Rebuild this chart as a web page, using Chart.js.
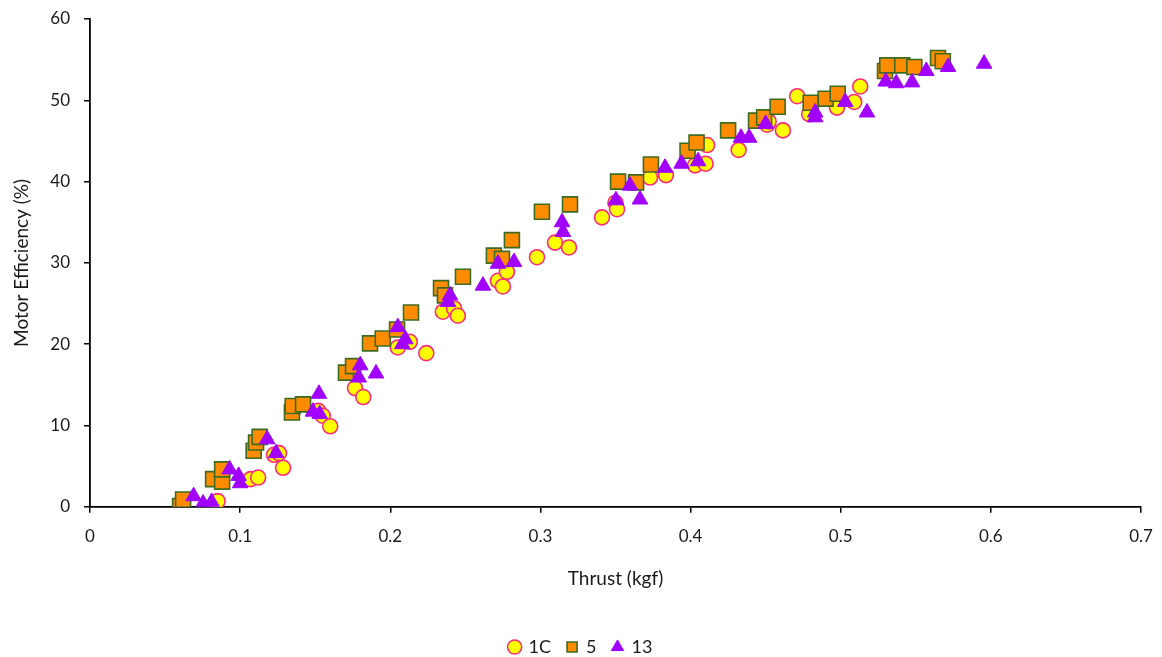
<!DOCTYPE html>
<html>
<head>
<meta charset="utf-8">
<script src="https://cdn.jsdelivr.net/npm/chart.js@4"></script>
<style>
  html, body { margin: 0; padding: 0; background: #fff; }
  #wrap { width: 1162px; height: 657px; }
</style>
</head>
<body>
<div id="wrap"><canvas id="chart"></canvas></div>
<script>
// Motor efficiency vs thrust, three test series
const xTicks = [0, 0.1, 0.2, 0.3, 0.4, 0.5, 0.6, 0.7];
const yTicks = [0, 10, 20, 30, 40, 50, 60];

const series1C = [
  [0.084, 0.2], [0.085, 0.7], [0.107, 3.4], [0.112, 3.6], [0.1286, 4.8],
  [0.1226, 6.4], [0.1259, 6.6], [0.152, 11.8], [0.155, 11.2], [0.160, 9.9],
  [0.1765, 14.6], [0.182, 13.5], [0.205, 19.6], [0.213, 20.3], [0.224, 18.9],
  [0.235, 24.0], [0.2425, 24.4], [0.245, 23.5], [0.2717, 27.8], [0.275, 27.1],
  [0.2777, 28.9], [0.2977, 30.7], [0.3097, 32.5], [0.319, 31.9], [0.341, 35.6],
  [0.350, 37.4], [0.351, 36.6], [0.373, 40.5], [0.3836, 40.8], [0.403, 42.0],
  [0.410, 42.2], [0.411, 44.5], [0.432, 43.9], [0.451, 47.0], [0.452, 47.4],
  [0.4615, 46.3], [0.471, 50.5], [0.479, 48.3], [0.4975, 49.1], [0.509, 49.8],
  [0.513, 51.7]
];

const series5 = [
  [0.060, 0.1], [0.062, 0.9], [0.082, 3.4], [0.088, 3.1], [0.088, 4.6],
  [0.109, 6.9], [0.1106, 7.9], [0.113, 8.6], [0.1345, 11.6], [0.135, 12.4],
  [0.1419, 12.6], [0.1705, 16.5], [0.1752, 17.3], [0.1865, 20.1], [0.195, 20.7],
  [0.2045, 21.8], [0.2138, 23.9], [0.2338, 26.9], [0.2364, 26.0], [0.2484, 28.3],
  [0.269, 30.9], [0.2744, 30.5], [0.281, 32.8], [0.301, 36.3], [0.3197, 37.2],
  [0.3517, 40.0], [0.3637, 39.9], [0.3736, 42.1], [0.398, 43.8], [0.404, 44.8],
  [0.425, 46.3], [0.4436, 47.5], [0.449, 47.9], [0.458, 49.2], [0.480, 49.7],
  [0.490, 50.2], [0.498, 50.8], [0.5295, 53.6], [0.531, 54.3], [0.541, 54.3],
  [0.549, 54.1], [0.5648, 55.2], [0.568, 54.8]
];

const series13 = [
  [0.069, 1.3], [0.0753, 0.4], [0.081, 0.6], [0.093, 4.6], [0.099, 3.8],
  [0.100, 2.9], [0.118, 8.3], [0.124, 6.6], [0.1485, 11.7], [0.153, 11.4],
  [0.1525, 13.9], [0.179, 15.9], [0.180, 17.4], [0.1905, 16.4], [0.205, 22.1],
  [0.208, 20.0], [0.210, 20.6], [0.2385, 25.2], [0.2398, 26.0], [0.2617, 27.2],
  [0.2717, 29.9], [0.2824, 30.1], [0.3144, 35.0], [0.315, 33.8], [0.3503, 37.7],
  [0.3597, 39.5], [0.3663, 37.8], [0.383, 41.7], [0.394, 42.2], [0.405, 42.5],
  [0.4336, 45.4], [0.439, 45.4], [0.450, 47.1], [0.483, 48.5], [0.483, 47.9],
  [0.503, 49.8], [0.5175, 48.5], [0.530, 52.3], [0.537, 52.1], [0.5475, 52.2],
  [0.557, 53.6], [0.5715, 54.1], [0.5955, 54.5]
];

const toPts = arr => arr.map(p => ({ x: p[0], y: p[1] }));

const FONT = 'Lato, "Open Sans", sans-serif';
const TXT = '#1a1a1a';

new Chart(document.getElementById('chart'), {
  type: 'scatter',
  data: {
    datasets: [
      {
        label: '1C',
        data: toPts(series1C),
        pointStyle: 'circle',
        pointRadius: 7.5,
        pointBorderWidth: 1.6,
        backgroundColor: '#ffff00',
        borderColor: '#ff2a7f',
        order: 3
      },
      {
        label: '5',
        data: toPts(series5),
        pointStyle: 'rect',
        pointRadius: 10.6,
        pointBorderWidth: 1.6,
        backgroundColor: '#ff8c00',
        borderColor: '#3d6b22',
        order: 2
      },
      {
        label: '13',
        data: toPts(series13),
        pointStyle: 'triangle',
        pointRadius: 9,
        pointBorderWidth: 1,
        backgroundColor: '#a100ff',
        borderColor: '#a100ff',
        order: 1
      }
    ]
  },
  options: {
    responsive: true,
    maintainAspectRatio: false,
    animation: false,
    layout: { padding: { left: 0, right: 0, top: 19, bottom: -9 } },
    plugins: {
      tooltip: { enabled: false },
      legend: {
        position: 'bottom',
        labels: {
          usePointStyle: true,
          boxWidth: 10,
          boxHeight: 10,
          padding: 16,
          color: TXT,
          font: { family: FONT, size: 18 },
          sort: (a, b) => a.datasetIndex - b.datasetIndex
        }
      }
    },
    scales: {
      x: {
        type: 'linear',
        min: 0,
        max: 0.7,
        afterBuildTicks: axis => { axis.ticks = xTicks.map(v => ({ value: v })); },
        // keep the right edge of the plot at a fixed inset
        afterFit: scale => { scale.paddingRight = 21; },
        ticks: {
          color: TXT,
          padding: 14,
          font: { family: FONT, size: 17 },
          callback: v => String(+v.toFixed(1))
        },
        grid: { drawOnChartArea: false, color: '#000', tickLength: 6, lineWidth: 1.5 },
        border: { display: true, color: '#000', width: 1.8 },
        title: {
          display: true,
          text: 'Thrust (kgf)',
          color: TXT,
          font: { family: FONT, size: 19 },
          padding: { top: 6, bottom: 32 }
        }
      },
      y: {
        type: 'linear',
        min: 0,
        max: 60,
        afterBuildTicks: axis => { axis.ticks = yTicks.map(v => ({ value: v })); },
        afterFit: scale => {
          scale.width = 90;
          scale.paddingTop = 0;
          scale.paddingBottom = 0;
        },
        ticks: {
          color: TXT,
          padding: 14,
          font: { family: FONT, size: 17 }
        },
        grid: { drawOnChartArea: false, color: '#000', tickLength: 6, lineWidth: 1.5 },
        border: { display: true, color: '#000', width: 1.8 },
        title: {
          display: true,
          text: 'Motor Efficiency (%)',
          color: TXT,
          font: { family: FONT, size: 19 },
          padding: { top: 10, bottom: 8 }
        }
      }
    }
  }
});
</script>
</body>
</html>
